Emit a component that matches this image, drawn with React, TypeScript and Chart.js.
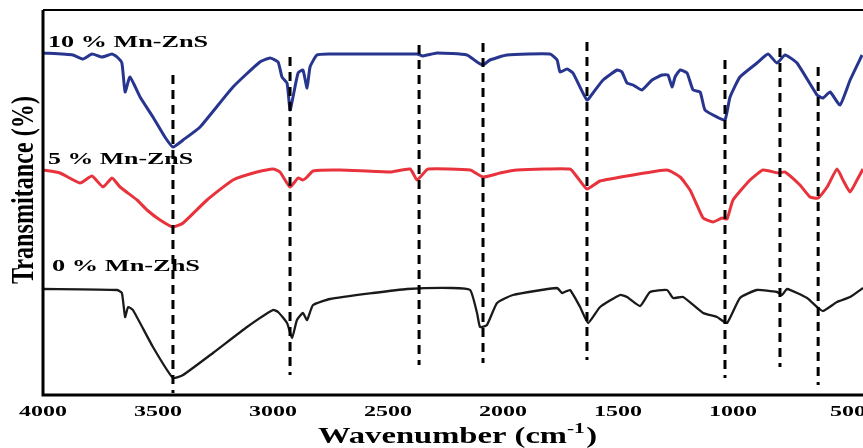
import React, { useEffect, useRef } from "react";
import { Chart, registerables } from "chart.js";

Chart.register(...registerables);

// Wavenumber (cm-1) and transmittance (arbitrary units) for each sample
const wn10 = [4000, 3870, 3826, 3787, 3743, 3700, 3678, 3657, 3643, 3622, 3578, 3522, 3470, 3435, 3391, 3317, 3174, 3057, 3013, 2978, 2961, 2939, 2926, 2913, 2891, 2870, 2852, 2839, 2809, 2752, 2652, 2448, 2374, 2348, 2287, 2157, 2113, 2087, 2057, 1983, 1796, 1765, 1752, 1722, 1696, 1635, 1609, 1565, 1504, 1483, 1461, 1435, 1396, 1352, 1309, 1283, 1265, 1252, 1230, 1200, 1174, 1143, 1122, 1070, 1035, 1013, 970, 896, 848, 809, 774, 722, 635, 609, 578, 535, 491, 439];
const t10 = [342, 340, 336, 341, 338, 341, 338, 332, 303, 318, 298, 278, 258, 248, 255, 268, 308, 333, 337, 333, 318, 312, 285, 298, 322, 325, 307, 328, 340, 341, 341, 341, 341, 339, 342, 340, 333, 330, 335, 340, 341, 335, 323, 326, 322, 295, 302, 315, 325, 323, 312, 310, 305, 315, 320, 320, 308, 318, 325, 322, 305, 303, 285, 278, 275, 298, 318, 332, 341, 332, 340, 332, 300, 297, 303, 290, 315, 340];

const wn5 = [4000, 3926, 3839, 3787, 3739, 3700, 3665, 3591, 3548, 3491, 3435, 3391, 3287, 3174, 3070, 3000, 2970, 2926, 2891, 2870, 2852, 2826, 2709, 2491, 2404, 2374, 2352, 2326, 2143, 2087, 2013, 1939, 1709, 1678, 1635, 1578, 1435, 1287, 1230, 1187, 1157, 1130, 1087, 1048, 1026, 1000, 926, 870, 804, 774, 709, 665, 630, 591, 548, 522, 491, 461, 435];
const t5 = [225, 222, 212, 219, 208, 217, 208, 195, 185, 175, 168, 172, 195, 215, 223, 226, 223, 208, 217, 215, 218, 224, 225, 223, 226, 215, 220, 226, 225, 218, 222, 225, 226, 218, 206, 214, 220, 225, 218, 205, 190, 177, 173, 177, 176, 195, 215, 225, 222, 223, 210, 198, 197, 208, 226, 215, 203, 215, 226];

const wn0 = [4000, 3678, 3657, 3643, 3630, 3609, 3522, 3435, 3391, 3261, 3113, 3000, 2978, 2939, 2917, 2896, 2870, 2852, 2826, 2752, 2565, 2417, 2222, 2143, 2113, 2100, 2070, 2026, 1957, 1765, 1743, 1709, 1665, 1630, 1578, 1491, 1461, 1404, 1361, 1287, 1261, 1217, 1130, 1070, 1026, 970, 896, 809, 787, 765, 678, 635, 609, 548, 491, 435];
const t0 = [106, 105, 102, 78, 88, 85, 48, 17, 20, 42, 68, 85, 83, 72, 57, 75, 82, 75, 90, 96, 102, 106, 107, 105, 82, 68, 70, 92, 100, 107, 102, 105, 88, 72, 88, 100, 98, 89, 103, 105, 97, 98, 82, 78, 72, 97, 105, 103, 100, 106, 97, 88, 84, 93, 98, 107];

// Marked bands: position, top and bottom of the dashed guide
const bandWn = [3435, 2926, 2365, 2087, 1635, 1035, 796, 630];
const bandTop = [320, 338, 350, 352, 353, 335, 347, 328];
const bandBottom = [2, 20, 30, 32, 35, 17, 28, 10];

const seriesLabels = ["10 % Mn-ZnS", "5 % Mn-ZnS", "0 % Mn-ZhS"];
const seriesColors = ["#27358f", "#e8323c", "#1a1a1a"];
const xTicks = [4000, 3500, 3000, 2500, 2000, 1500, 1000, 500];
const xTitle = "Wavenumber (cm";
const xTitleSup = "-1";
const yTitle = "Transmitance (%)";

const X_MIN = 435;
const X_MAX = 4000;
const SERIF = '"Liberation Serif", "Times New Roman", serif';

function pts(xs: number[], ys: number[]) {
  return xs.map((x, i) => ({ x, y: ys[i] }));
}

function drawFit(ctx: CanvasRenderingContext2D, text: string, font: string, left: number, baseline: number, width: number) {
  ctx.save();
  ctx.font = font;
  const m = ctx.measureText(text).width;
  ctx.translate(left, baseline);
  ctx.scale(width / m, 1);
  ctx.textAlign = "left";
  ctx.textBaseline = "alphabetic";
  ctx.fillText(text, 0, 0);
  ctx.restore();
}

const textPlugin = {
  id: "textPlugin",
  afterDraw(chart: any) {
    const ctx: CanvasRenderingContext2D = chart.ctx;
    const area = chart.chartArea;
    const xs = chart.scales.x;
    ctx.save();
    // frame
    ctx.strokeStyle = "#000";
    ctx.lineWidth = 3;
    ctx.beginPath();
    ctx.moveTo(area.left, area.top);
    ctx.lineTo(area.left, area.bottom);
    ctx.lineTo(area.right, area.bottom);
    ctx.stroke();
    ctx.lineWidth = 2;
    ctx.beginPath();
    ctx.moveTo(area.left, area.top);
    ctx.lineTo(area.right, area.top);
    ctx.stroke();

    ctx.fillStyle = "#000";
    // tick labels
    const tickFont = "bold 15px " + SERIF;
    ctx.font = tickFont;
    const sx = 1.6;
    xTicks.forEach((v) => {
      const s = String(v);
      const w = ctx.measureText(s).width * sx;
      const px = xs.getPixelForValue(v);
      drawFit(ctx, s, tickFont, px - w / 2, area.bottom + 21, w);
    });

    // series labels
    const lblFont = "bold 16px " + SERIF;
    drawFit(ctx, seriesLabels[0], lblFont, 48, 47, 160);
    drawFit(ctx, seriesLabels[1], lblFont, 48, 164, 145);
    drawFit(ctx, seriesLabels[2], lblFont, 52, 271, 148);

    // x title
    const tFont = "bold 23px " + SERIF;
    const sFont = "bold 15px " + SERIF;
    ctx.font = tFont;
    const w1 = ctx.measureText(xTitle).width;
    const w3 = ctx.measureText(")").width;
    ctx.font = sFont;
    const w2 = ctx.measureText(xTitleSup).width;
    const total = w1 + w2 + w3 + 1;
    const k = 279 / total;
    const left = 318;
    drawFit(ctx, xTitle, tFont, left, 443, w1 * k);
    drawFit(ctx, xTitleSup, sFont, left + w1 * k, 433, w2 * k);
    drawFit(ctx, ")", tFont, left + (w1 + w2 + 1) * k, 443, w3 * k);

    // y title (rotated)
    const yFont = "bold 20px " + SERIF;
    ctx.font = yFont;
    const yw = ctx.measureText(yTitle).width;
    ctx.save();
    ctx.translate(33, 190);
    ctx.rotate(-Math.PI / 2);
    ctx.scale(188 / yw, 1.6);
    ctx.textAlign = "center";
    ctx.textBaseline = "alphabetic";
    ctx.fillText(yTitle, 0, 0);
    ctx.restore();

    ctx.restore();
  },
};

const whiteBg = {
  id: "whiteBg",
  beforeDraw(chart: any) {
    const ctx = chart.ctx;
    ctx.save();
    ctx.fillStyle = "#fff";
    ctx.fillRect(0, 0, chart.width, chart.height);
    ctx.restore();
  },
};

export default function App() {
  const ref = useRef<HTMLCanvasElement | null>(null);
  useEffect(() => {
    if (!ref.current) return;
    const bandSets = bandWn.map((w, i) => ({
      data: [
        { x: w, y: bandTop[i] },
        { x: w, y: bandBottom[i] },
      ],
      borderColor: "#000",
      borderWidth: 3,
      borderDash: [9, 6],
      pointRadius: 0,
      fill: false,
    }));
    const curves = [
      pts(wn10, t10),
      pts(wn5, t5),
      pts(wn0, t0),
    ].map((d, i) => ({
      data: d,
      borderColor: seriesColors[i],
      borderWidth: i === 2 ? 2.3 : 3,
      pointRadius: 0,
      fill: false,
      tension: 0.15,
    }));
    const chart = new Chart(ref.current, {
      type: "line",
      data: { datasets: [...bandSets, ...curves] as any },
      options: {
        responsive: false,
        animation: false,
        events: [],
        layout: { padding: { left: 43, top: 10, right: 0, bottom: 53 } },
        plugins: { legend: { display: false }, tooltip: { enabled: false } },
        scales: {
          x: { type: "linear", reverse: true, min: X_MIN, max: X_MAX, display: false },
          y: { type: "linear", min: 0, max: 385, display: false },
        },
      },
      plugins: [whiteBg, textPlugin],
    });
    return () => chart.destroy();
  }, []);
  return (
    <div style={{ position: "fixed", left: 0, top: 0, width: 863, height: 448, background: "#fff" }}>
      <canvas ref={ref} width={863} height={448} style={{ display: "block" }} />
    </div>
  );
}
